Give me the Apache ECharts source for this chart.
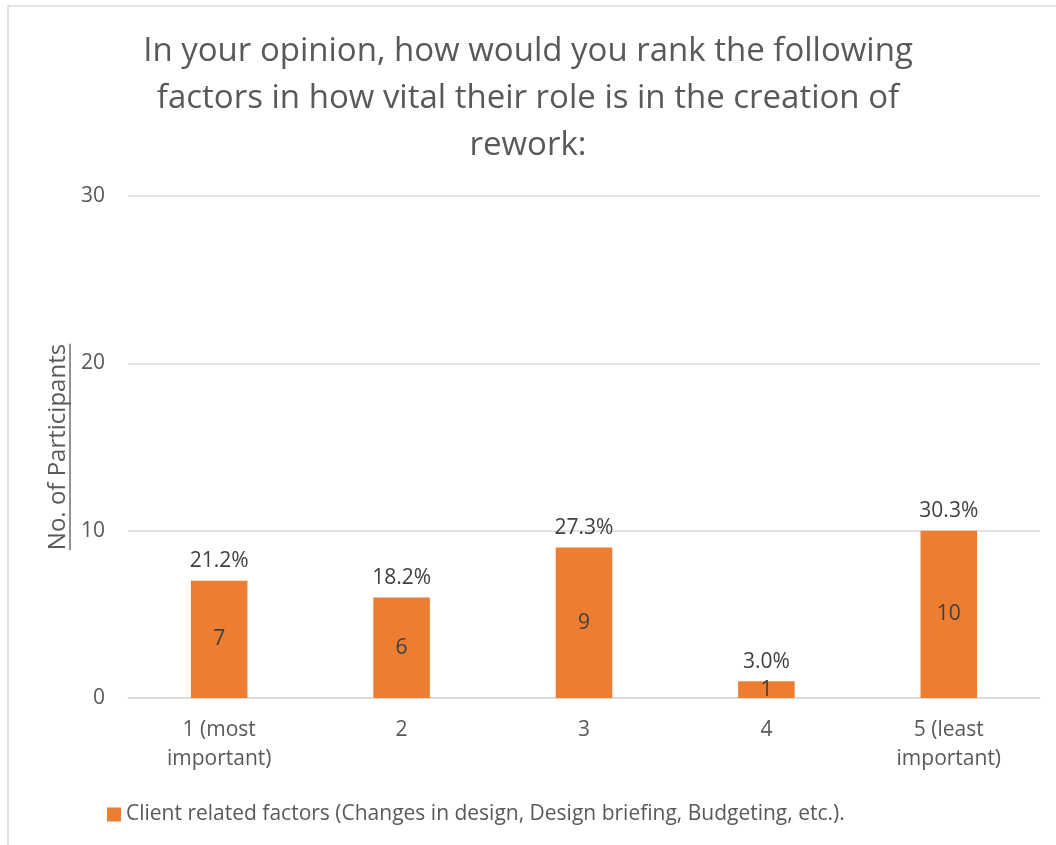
<!DOCTYPE html>
<html>
<head>
<meta charset="utf-8">
<script src="https://cdn.jsdelivr.net/npm/echarts@6/dist/echarts.min.js"></script>
<style>
  html, body { margin: 0; padding: 0; background: #fff; }
  #main { width: 1056px; height: 845px; }
</style>
</head>
<body>
<div id="main"></div>
<script>
// data
var categories = ['1 (most\nimportant)', '2', '3', '4', '5 (least\nimportant)'];
var counts = [7, 6, 9, 1, 10];
var percents = ['21.2%', '18.2%', '27.3%', '3.0%', '30.3%'];
var yTicks = [0, 10, 20, 30];
var seriesName = 'Client related factors (Changes in design, Design briefing, Budgeting, etc.).';
var yName = 'No. of Participants';

var FONT = '"Open Sans", "Liberation Sans", sans-serif';

// width of the axis title, for its underline
var ctx = document.createElement('canvas').getContext('2d');
ctx.font = '24px "Open Sans"';
var yNameW = ctx.measureText(yName).width;

var myChart = echarts.init(document.getElementById('main'));
var option = {
    animation: false,
    textStyle: { fontFamily: FONT },
    title: {
        text: 'In your opinion, how would you rank the following\nfactors in how vital their role is in the creation of\nrework:',
        left: 'center',
        top: 23,
        textStyle: {
            fontFamily: FONT,
            fontSize: 33,
            fontWeight: 'normal',
            color: '#595959',
            lineHeight: 47
        }
    },
    grid: {
        left: 128,
        right: 16,
        top: 196,
        bottom: 147
    },
    legend: {
        data: [seriesName],
        left: 102,
        top: 799,
        itemWidth: 14,
        itemHeight: 14,
        icon: 'rect',
        textStyle: { fontFamily: FONT, fontSize: 21, color: '#595959' }
    },
    xAxis: {
        type: 'category',
        data: categories,
        axisTick: { show: false },
        axisLine: { lineStyle: { color: '#d9d9d9', width: 1.5 } },
        axisLabel: {
            fontSize: 21,
            color: '#595959',
            lineHeight: 29,
            margin: 18
        }
    },
    yAxis: {
        type: 'value',
        min: yTicks[0],
        max: yTicks[yTicks.length - 1],
        interval: 10,
        axisLine: { show: false },
        axisTick: { show: false },
        splitLine: { lineStyle: { color: '#d9d9d9', width: 1.5 } },
        axisLabel: { fontSize: 21, color: '#595959', margin: 23 }
    },
    graphic: [
        {
            type: 'rect',
            shape: { x: 8, y: 6, width: 1100, height: 900 },
            style: { fill: null, stroke: '#d9d9d9', lineWidth: 1.5 },
            silent: true
        },
        {
            type: 'text',
            x: 58,
            y: 447,
            rotation: Math.PI / 2,
            style: {
                text: yName,
                font: '24px ' + FONT,
                fill: '#595959',
                align: 'center',
                verticalAlign: 'middle'
            }
        },
        {
            type: 'line',
            shape: { x1: 70, y1: 447 - yNameW / 2, x2: 70, y2: 447 + yNameW / 2 },
            style: { stroke: '#595959', lineWidth: 1.3 }
        }
    ],
    series: [
        {
            name: seriesName,
            type: 'bar',
            data: counts,
            barWidth: '31%',
            itemStyle: { color: '#ED7D31' },
            label: {
                show: true,
                position: 'inside',
                fontSize: 21,
                color: '#404040'
            }
        },
        {
            name: 'pct',
            type: 'bar',
            data: counts,
            barWidth: '31%',
            barGap: '-100%',
            silent: true,
            itemStyle: { color: 'rgba(0,0,0,0)' },
            label: {
                show: true,
                position: 'top',
                distance: 9,
                fontSize: 21,
                color: '#404040',
                formatter: function (p) {
                    return percents[p.dataIndex];
                }
            }
        }
    ]
};
myChart.setOption(option);
</script>
</body>
</html>
